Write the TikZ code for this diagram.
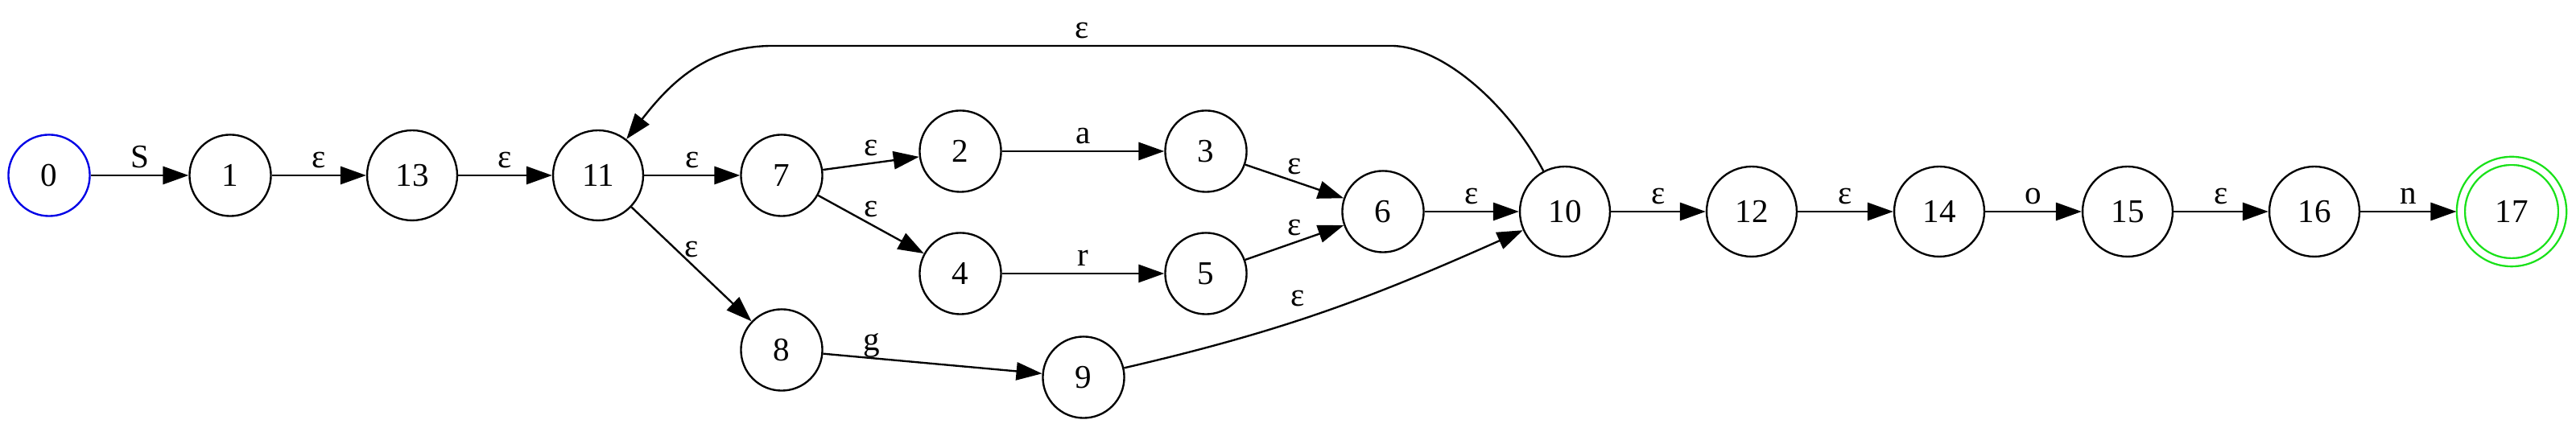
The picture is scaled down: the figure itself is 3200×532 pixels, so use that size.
\documentclass[tikz,border=0pt]{standalone}
\usepackage{fontspec}
\setmainfont{Liberation Serif}
\usetikzlibrary{arrows.meta}
\begin{document}
\begin{tikzpicture}[x=0.36pt,y=0.36pt,
  state/.style={circle,draw=black,line width=0.85pt,minimum size=36.4pt,inner sep=0pt,font=\fontsize{14.8}{17}\selectfont},
  bigstate/.style={state,minimum size=40.3pt},
  edge/.style={draw=black,line width=0.85pt,-{Triangle[length=11.5pt,width=8pt]}},
  lbl/.style={anchor=base,inner sep=0pt,yshift=3.3pt,font=\fontsize{14.8}{17}\selectfont}]
\definecolor{startColor}{RGB}{0,0,230}
\definecolor{finalColor}{RGB}{25,225,25}
\path[use as bounding box,fill=white] (0,0) rectangle (3200,532);

% states
\node[state,draw=startColor] (s0) at (61,314) {0};
\node[state] (s1) at (286,314) {1};
\node[bigstate] (s13) at (512,314) {13};
\node[bigstate] (s11) at (743,314) {11};
\node[state] (s7) at (971,314) {7};
\node[state] (s2) at (1193,344) {2};
\node[state] (s3) at (1498,344) {3};
\node[state] (s4) at (1193,192) {4};
\node[state] (s5) at (1498,192) {5};
\node[state] (s8) at (971,97) {8};
\node[state] (s9) at (1346,63) {9};
\node[state] (s6) at (1718,269) {6};
\node[bigstate] (s10) at (1944,269) {10};
\node[bigstate] (s12) at (2176,269) {12};
\node[bigstate] (s14) at (2409,269) {14};
\node[bigstate] (s15) at (2643,269) {15};
\node[bigstate] (s16) at (2875,269) {16};
\node[bigstate,draw=finalColor,double=white,double distance=2.8pt,minimum size=45.4pt,outer sep=2pt] (s17) at (3120,269) {17};

\coordinate (c1) at (1728,475);
\coordinate (c2) at (960,475);

% transitions
\draw[edge] (s0) -- node[lbl] {S} (s1);
\draw[edge] (s1) -- node[lbl] {ε} (s13);
\draw[edge] (s13) -- node[lbl] {ε} (s11);
\draw[edge] (s11) -- node[lbl] {ε} (s7);
\draw[edge] (s11) -- node[lbl] {ε} (s8);
\draw[edge] (s7) -- node[lbl] {ε} (s2);
\draw[edge] (s7) -- node[lbl] {ε} (s4);
\draw[edge] (s2) -- node[lbl] {a} (s3);
\draw[edge] (s4) -- node[lbl] {r} (s5);
\draw[edge] (s3) -- node[lbl] {ε} (s6);
\draw[edge] (s5) -- node[lbl] {ε} (s6);
\draw[edge] (s8) -- node[lbl,pos=0.22] {g} (s9);
\draw[edge] (s9) to[out=13,in=204] node[lbl,pos=0.42,yshift=3pt] {ε} (s10);
\draw[edge] (s6) -- node[lbl] {ε} (s10);
\draw[edge] (s10) .. controls (1872,405) and (1790,475) .. (c1) -- node[lbl] {ε} (c2) to[out=180,in=52] (s11);
\draw[edge] (s10) -- node[lbl] {ε} (s12);
\draw[edge] (s12) -- node[lbl] {ε} (s14);
\draw[edge] (s14) -- node[lbl] {o} (s15);
\draw[edge] (s15) -- node[lbl] {ε} (s16);
\draw[edge] (s16) -- node[lbl] {n} (s17);
\end{tikzpicture}
\end{document}
